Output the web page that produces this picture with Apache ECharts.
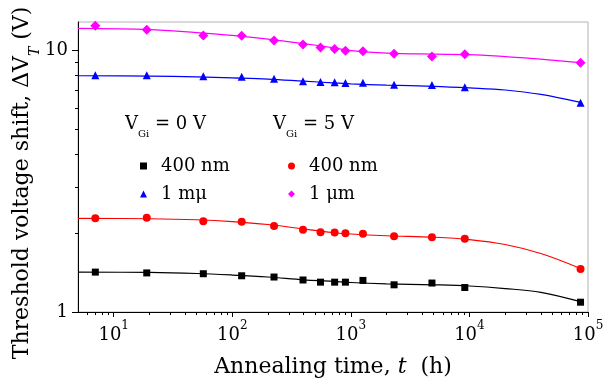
<!DOCTYPE html>
<html><head><meta charset="utf-8">
<script src="https://cdn.jsdelivr.net/npm/echarts@6/dist/echarts.min.js"></script>
<style>html,body{margin:0;padding:0;background:#fff}#c{width:604px;height:391px}</style>
</head><body><div id="c"></div>
<script>
// ---- data ----
const times = [7, 19, 57, 120, 225, 395, 555, 730, 900, 1265, 2315, 4830, 9140, 86500];
const v0_400 = [1.42, 1.41, 1.40, 1.375, 1.36, 1.325, 1.30, 1.30, 1.30, 1.32, 1.27, 1.29, 1.24, 1.09];
const v0_1um = [8.01, 8.01, 7.94, 7.91, 7.77, 7.61, 7.55, 7.53, 7.48, 7.50, 7.37, 7.35, 7.21, 6.29];
const v5_400 = [2.28, 2.29, 2.22, 2.21, 2.13, 2.06, 2.015, 2.01, 2.00, 1.99, 1.945, 1.93, 1.905, 1.46];
const v5_1um = [12.38, 11.96, 11.38, 11.34, 10.89, 10.51, 10.24, 10.10, 9.94, 9.89, 9.68, 9.46, 9.63, 8.95];

const fitTimes = [5, 20, 50, 100, 200, 400, 700, 1000, 2000, 5000, 10000, 20000, 40000, 86500];
const fit0_400 = [1.42, 1.416, 1.403, 1.384, 1.36, 1.327, 1.31, 1.296, 1.281, 1.27, 1.257, 1.229, 1.189, 1.095];
const fit0_1um = [7.98, 7.95, 7.90, 7.83, 7.75, 7.61, 7.50, 7.43, 7.35, 7.27, 7.17, 7.04, 6.77, 6.31];
const fit5_400 = [2.278, 2.27, 2.25, 2.215, 2.158, 2.074, 2.012, 1.985, 1.955, 1.93, 1.891, 1.81, 1.672, 1.466];
const fit5_1um = [12.10, 11.98, 11.66, 11.38, 11.02, 10.59, 10.22, 9.96, 9.74, 9.65, 9.61, 9.445, 9.24, 8.95];

const xTickValues = [10, 100, 1000, 10000, 100000];
const xTickExps = ['1', '2', '3', '4', '5'];
const yTickValues = [1, 10];
const yTickLabels = ['1', '10'];

const legendLabels = { s0_400: '400 nm', s0_1um: '1 mμ', s5_400: '400 nm', s5_1um: '1 μm' };
const groupTitles = ['V{sub|Gi} = 0 V', 'V{sub|Gi} = 5 V'];
const xTitle = 'Annealing time, {i|t}  (h)';
const yTitle = 'Threshold voltage shift, ΔV{sub|T} (V)';

// ---- chart ----
const FONT = 'DejaVu Serif';
const minorXv = [];
[1, 10, 100, 1000, 10000].forEach(d => { for (let k = 2; k <= 9; k++) { if (d * k > 5) minorXv.push(d * k); } });
const minorY = [2, 3, 4, 5, 6, 7, 8, 9];

const defs = [
  { name: 's0_400', data: v0_400, fit: fit0_400, color: '#000000', symbol: 'rect', size: 7 },
  { name: 's0_1um', data: v0_1um, fit: fit0_1um, color: '#0000ff', symbol: 'triangle', size: 8 },
  { name: 's5_400', data: v5_400, fit: fit5_400, color: '#ff0000', symbol: 'circle', size: 8 },
  { name: 's5_1um', data: v5_1um, fit: fit5_1um, color: '#ff00ff', symbol: 'diamond', size: 10 }
];
const pairs = (xs, ys) => xs.map((x, i) => [x, ys[i]]);

const series = [];
defs.forEach(d => {
  series.push({
    type: 'line', name: d.name + '_fit', data: pairs(fitTimes, d.fit), smooth: 0.35,
    showSymbol: false, symbol: 'none', silent: true, z: 2,
    lineStyle: { color: d.color, width: 1.2, opacity: 1 }
  });
});
defs.forEach(d => {
  series.push({
    type: 'scatter', name: d.name, data: pairs(times, d.data), symbol: d.symbol,
    symbolSize: d.size, itemStyle: { color: d.color, opacity: 1 }, z: 3
  });
});

const legendCommon = {
  orient: 'vertical', itemWidth: 7, itemHeight: 7, itemGap: 8, selectedMode: false,
  formatter: n => legendLabels[n],
  itemStyle: { opacity: 1 },
  textStyle: { fontFamily: FONT, fontSize: 18, lineHeight: 20, color: '#000', padding: [0, 0, 0, 9] }
};

const option = {
  animation: false,
  backgroundColor: '#ffffff',
  grid: { left: 78, right: 16, top: 22, bottom: 79, show: true, borderColor: '#b4b4b4', borderWidth: 1, outerBoundsMode: 'none', containLabel: false },
  xAxis: [
    {
      type: 'log', logBase: 10, min: 5, max: 100000,
      name: xTitle, nameLocation: 'middle', nameGap: 44, nameMoveOverlap: false,
      nameTextStyle: { fontFamily: FONT, fontSize: 22, color: '#000', rich: { i: { fontFamily: FONT, fontSize: 22, fontStyle: 'italic', color: '#000' } } },
      axisLine: { show: true, lineStyle: { color: '#000', width: 1 } },
      axisTick: { show: true, length: 5, customValues: xTickValues, lineStyle: { color: '#000' } },
      axisLabel: {
        show: true, customValues: xTickValues, margin: 8, fontFamily: FONT, fontSize: 18, color: '#000', lineHeight: 30,
        formatter: v => { const i = Math.round(Math.log10(v)) - 1; return '10{sup|' + xTickExps[i] + '}'; },
        rich: { sup: { fontFamily: FONT, fontSize: 12, color: '#000', verticalAlign: 'top' } }
      },
      splitLine: { show: false }, minorTick: { show: false }
    },
    {
      type: 'log', logBase: 10, min: 5, max: 100000, position: 'bottom',
      axisLine: { show: false }, axisLabel: { show: false }, splitLine: { show: false },
      axisTick: { show: true, length: 3, customValues: minorXv, lineStyle: { color: '#000' } }
    }
  ],
  yAxis: [
    {
      type: 'log', logBase: 10, min: 1, max: 12.8,
      axisLine: { show: true, lineStyle: { color: '#000', width: 1 } },
      axisTick: { show: true, length: 6, customValues: yTickValues, lineStyle: { color: '#000' } },
      axisLabel: {
        show: true, customValues: yTickValues, margin: 10, fontFamily: FONT, fontSize: 18, color: '#000',
        formatter: v => { const i = yTickValues.findIndex(t => Math.abs(t - v) < 1e-6 * t); return i >= 0 ? yTickLabels[i] : ''; }
      },
      splitLine: { show: false }, minorTick: { show: false }
    },
    {
      type: 'log', logBase: 10, min: 1, max: 12.8, position: 'left',
      axisLine: { show: false }, axisLabel: { show: false }, splitLine: { show: false },
      axisTick: { show: true, length: 3, customValues: minorY, lineStyle: { color: '#000' } }
    }
  ],
  legend: [
    Object.assign({ data: ['s0_400', 's0_1um'], left: 135, top: 151 }, legendCommon),
    Object.assign({ data: ['s5_400', 's5_1um'], left: 283, top: 151 }, legendCommon)
  ],
  graphic: [
    { type: 'text', x: 125, y: 124, silent: true,
      style: { text: groupTitles[0], fontFamily: FONT, fontSize: 18, fill: '#000', align: 'left', verticalAlign: 'middle', lineHeight: 30,
        rich: { sub: { fontFamily: FONT, fontSize: 10, fill: '#000', verticalAlign: 'bottom', lineHeight: 30 } } } },
    { type: 'text', x: 273, y: 124, silent: true,
      style: { text: groupTitles[1], fontFamily: FONT, fontSize: 18, fill: '#000', align: 'left', verticalAlign: 'middle', lineHeight: 30,
        rich: { sub: { fontFamily: FONT, fontSize: 10, fill: '#000', verticalAlign: 'bottom', lineHeight: 30 } } } },
    { type: 'text', x: 22, y: 183, rotation: Math.PI / 2, silent: true,
      style: { text: yTitle, fontFamily: FONT, fontSize: 22, fill: '#000', align: 'center', verticalAlign: 'middle', lineHeight: 40,
        rich: { sub: { fontFamily: FONT, fontSize: 14, fontStyle: 'italic', fill: '#000', verticalAlign: 'bottom', lineHeight: 40 } } } }
  ],
  series: series
};
const chart = echarts.init(document.getElementById('c'), null, { renderer: 'canvas' });
chart.setOption(option);
</script>
</body></html>
